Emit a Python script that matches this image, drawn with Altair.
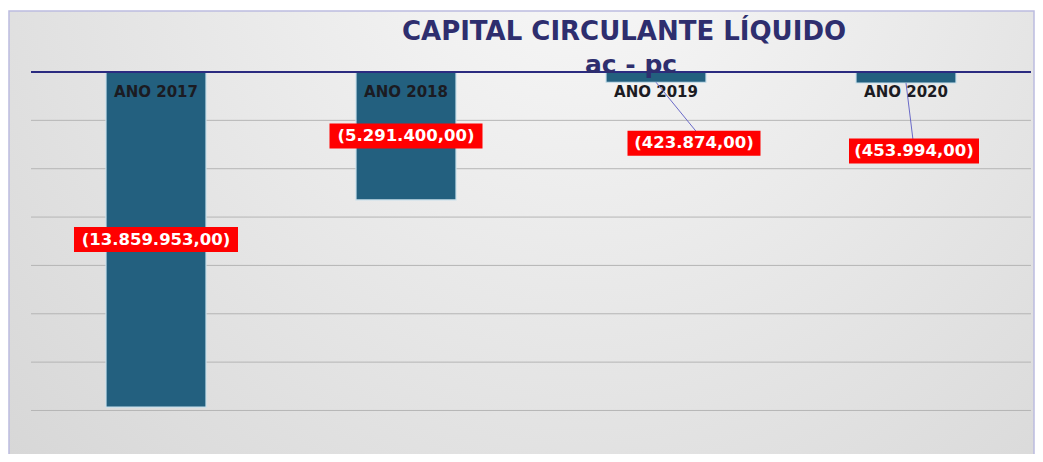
import altair as alt
import pandas as pd

# ---- data ----
categories = ["ANO 2017", "ANO 2018", "ANO 2019", "ANO 2020"]
values = [-13859953.00, -5291400.00, -423874.00, -453994.00]
value_labels = ["(13.859.953,00)", "(5.291.400,00)", "(423.874,00)", "(453.994,00)"]
grid_values = [-2000000 * k for k in range(1, 8)]   # value-axis gridline ticks

# ---- styles / layout ----
FONT = "DejaVu Sans"
BAR_COLOR = "#23607f"
NAVY = "#2e2e6e"
W, H = 1000, 382
PAD = {"left": 23, "top": 64, "right": 4, "bottom": 0}
# label placement: (anchor, dx, dy, box width) ; anchor "mid" = middle of bar, "end" = bar end
LABEL_STYLE = [("mid", 0, 0, 164), ("mid", 0, 0, 153), ("end", 38, 61, 133), ("end", 8, 68, 130)]
LEADER = [None, None, (40, 49), (7, 57)]
BOX_H = 25

df = pd.DataFrame({"idx": list(range(len(categories))), "cat": categories,
                   "value": values, "label": value_labels})

Y_SCALE = alt.Scale(domain=[-15800000, 0], nice=False, zero=False)
xs = alt.X("idx:Q", scale=alt.Scale(domain=[-0.5, 3.5], nice=False, zero=False, padding=0), axis=None)


def yenc(field):
    return alt.Y(f"{field}:Q", scale=Y_SCALE, axis=None)


base = alt.Chart(df)

bg = alt.Chart(pd.DataFrame({"a": [0]})).mark_rect(
    color={"gradient": "radial",
           "stops": [{"offset": 0, "color": "#f9f9f9"}, {"offset": 1, "color": "#cfcfcf"}],
           "x1": 0.56, "y1": 0.18, "r1": 0, "x2": 0.56, "y2": 0.18, "r2": 0.95},
    stroke="#bcbce0", strokeWidth=1.5,
).encode(x=alt.value(-PAD["left"] + 1), x2=alt.value(W + 3),
         y=alt.value(-PAD["top"] + 3), y2=alt.value(H + 20))

grid = alt.Chart(pd.DataFrame({"g": grid_values})).mark_rule(color="#b5b5b5", strokeWidth=1).encode(
    y=yenc("g"))

bars = base.mark_bar(size=100, color=BAR_COLOR, stroke="#c9dfeb", strokeWidth=1.2).encode(
    x=xs, y=yenc("value"), y2=alt.datum(0))

zero = alt.Chart(pd.DataFrame({"z": [0]})).mark_rule(color="#2b2b80", strokeWidth=2).encode(
    y=yenc("z"))

cat_text = base.mark_text(font=FONT, fontSize=15, fontWeight="bold", color="#1b1b22",
                          baseline="middle", dy=20).encode(
    x=xs, y=alt.datum(0, scale=Y_SCALE, axis=None), text="cat:N")

layers = [bg, grid, bars, zero, cat_text]

for i, (anchor, dx, dy, bw) in enumerate(LABEL_STYLE):
    expr = "datum.value/2" if anchor == "mid" else "datum.value"
    sub = base.transform_filter(f"datum.idx == {i}").transform_calculate(ly=expr)
    if LEADER[i] is not None:
        lx, lyo = LEADER[i]
        layers.append(sub.mark_rule(color="#6a6ac8", strokeWidth=1, x2Offset=lx, y2Offset=lyo).encode(
            x=xs, y=yenc("ly"), x2="idx:Q", y2="ly:Q"))
    hh = BOX_H / bw
    path = f"M-1,-{hh:.4f}L1,-{hh:.4f}L1,{hh:.4f}L-1,{hh:.4f}Z"
    layers.append(sub.mark_point(shape=path, filled=True, color="#ff0000", opacity=1,
                                 size=bw * bw, xOffset=dx, yOffset=dy).encode(x=xs, y=yenc("ly")))
    layers.append(sub.mark_text(font=FONT, fontSize=16.5, fontWeight="bold", color="white",
                                baseline="middle", dx=dx, dy=dy).encode(
        x=xs, y=yenc("ly"), text="label:N"))

title = alt.Chart(pd.DataFrame({"t": ["CAPITAL CIRCULANTE LÍQUIDO"]})).mark_text(
    font=FONT, fontSize=26, fontWeight="bold", color=NAVY, baseline="alphabetic").encode(
    x=alt.value(593), y=alt.value(-32), text="t:N")
subtitle = alt.Chart(pd.DataFrame({"t": ["ac - pc"]})).mark_text(
    font=FONT, fontSize=25, fontWeight="bold", color=NAVY, baseline="alphabetic").encode(
    x=alt.value(600), y=alt.value(1), text="t:N")
layers += [title, subtitle]

chart = alt.layer(*layers).properties(
    width=W, height=H, padding=PAD, autosize=alt.AutoSizeParams(type="none"),
    background="white"
).configure_view(stroke=None)

chart.save("out.html", embed_options={"renderer": "svg", "actions": False})
